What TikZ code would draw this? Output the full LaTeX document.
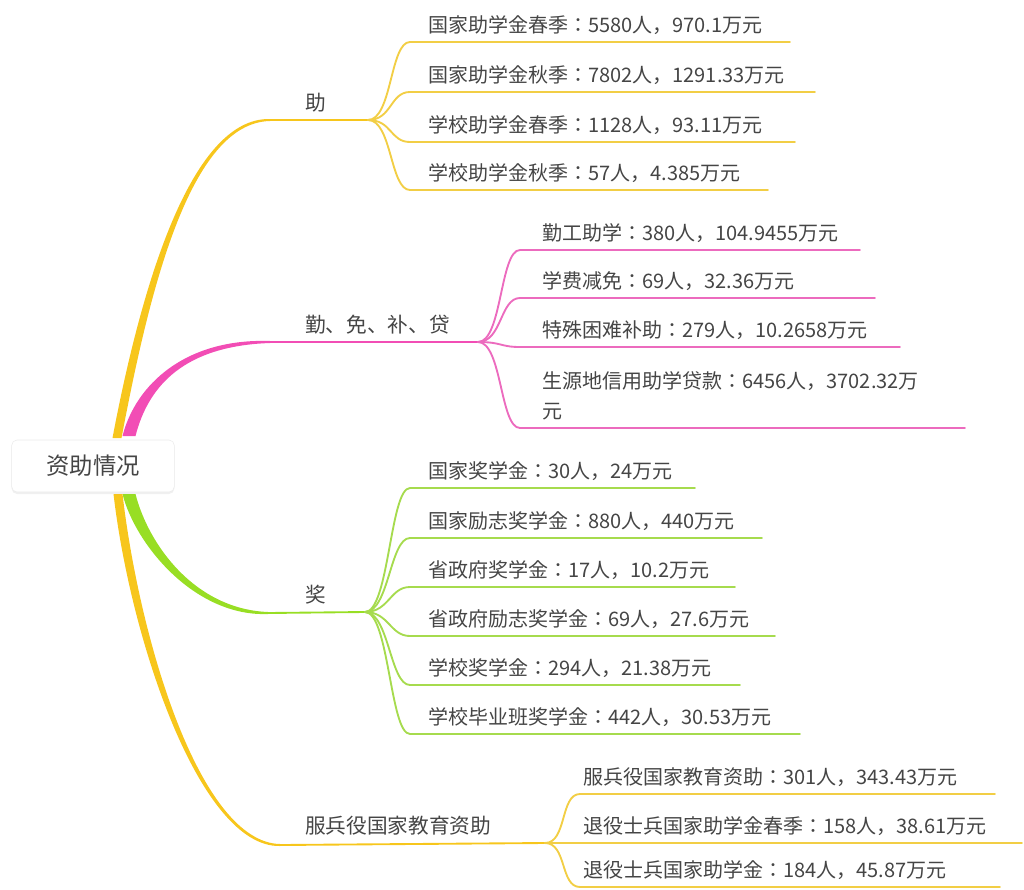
\documentclass[tikz,border=0pt]{standalone}
\usepackage{fontspec}
\setmainfont{Noto Sans CJK JP}
\usepackage{xcolor}
\usetikzlibrary{calc,backgrounds,shadows}
\definecolor{txt gray}{HTML}{454545}
\definecolor{zhu yellow}{HTML}{F7C61C}
\definecolor{zhu thin}{HTML}{F2CE45}
\definecolor{qin pink}{HTML}{F24DB5}
\definecolor{qin thin}{HTML}{EC6BBE}
\definecolor{jiang green}{HTML}{98DE24}
\definecolor{jiang thin}{HTML}{A6DB4E}
\tikzset{rootbox/.style={rectangle, rounded corners=4pt, fill=white, draw=black!8,
        minimum width=122pt, minimum height=39pt, text=txt gray,
        font=\fontsize{17.5}{21}\selectfont,
        drop shadow={opacity=0.12, shadow xshift=0pt, shadow yshift=-1.5pt}},
    topic/.style={anchor=base west, inner sep=0pt, text=txt gray,
        font=\fontsize{15.5}{19}\selectfont},
    leaf/.style={anchor=base west, inner sep=0pt, align=left, text=txt gray,
        font=\fontsize{15}{22.5}\selectfont},
    twig/.style={line width=1.4pt, line cap=round}}
% tapered main branch: colour, start, control 1, control 2, end, half width at start
\newcommand{\limb}[6]{%
    \fill[#1] ($(#2)+({-1*(#6)},0)$) .. controls ($(#3)+({-1*(#6)},0)$) and ($(#4)+(0,{-0.6*abs(#6)})$) .. ($(#5)+(0,-1)$)
        -- ($(#5)+(0,1)$) .. controls ($(#4)+(0,{0.6*abs(#6)})$) and ($(#3)+(#6,0)$) .. ($(#2)+(#6,0)$) -- cycle;}

\begin{document}
\begin{tikzpicture}[x=0.75pt,y=-0.75pt]
    \useasboundingbox (0,0) rectangle (1024,889);
    % Definition of the central topic
    \node[rootbox] (root) at (93,466) {资助情况};
    %
    \coordinate (root-zhu) at (117,438);
    \coordinate (root-qin) at (129,436);
    \coordinate (root-jiang) at (129,494);
    \coordinate (root-bing) at (118,494);
    %
    \node[topic] (zhu) at (305,110) {助};
    \node[topic] (qin) at (305,332) {勤、免、补、贷};
    \node[topic] (jiang) at (305,602) {奖};
    \node[topic] (bing) at (305,833) {服兵役国家教育资助};
    %
    \coordinate (zhu-s) at (270,120);   \coordinate (zhu-f) at (368,120);
    \coordinate (qin-s) at (270,342);   \coordinate (qin-f) at (478,342);
    \coordinate (jiang-s) at (268,613); \coordinate (jiang-f) at (365,612);
    \coordinate (bing-s) at (280,845);  \coordinate (bing-f) at (545,843);
    %
    \begin{pgfonlayer}{background}
    \limb{zhu yellow}{root-zhu}{145,290}{190,120}{zhu-s}{4.5}
    \limb{qin pink}{root-qin}{142,385}{185,342}{qin-s}{6.5}
    \limb{jiang green}{root-jiang}{142,545}{195,613}{jiang-s}{-6.5}
    \limb{zhu yellow}{root-bing}{135,640}{200,845}{bing-s}{-4.5}
    \draw[twig, zhu yellow] (zhu-s) -- (zhu-f);
    \draw[twig, qin pink] (qin-s) -- (qin-f);
    \draw[twig, jiang green] (jiang-s) -- (jiang-f);
    \draw[twig, zhu yellow] (bing-s) -- (bing-f);
    \end{pgfonlayer}
    % 助
    \foreach \y/\xe/\txt [count=\i] in {42/790/{国家助学金春季：5580人，970.1万元},
            92/815/{国家助学金秋季：7802人，1291.33万元},
            142/795/{学校助学金春季：1128人，93.11万元},
            190/768/{学校助学金秋季：57人，4.385万元}}{
        \coordinate (zhu-\i-a) at (410,\y);
        \coordinate (zhu-\i-b) at (\xe,\y);
        \node[leaf] (zhu-\i) at (428,\y-10) {\txt};
        \draw[twig, zhu thin] (zhu-f) .. controls +(24,0) and +(-20,0) .. (zhu-\i-a) -- (zhu-\i-b);
    }
    % 勤、免、补、贷
    \foreach \y/\xe/\txt [count=\i] in {250/860/{勤工助学：380人，104.9455万元},
            298/875/{学费减免：69人，32.36万元},
            347/900/{特殊困难补助：279人，10.2658万元},
            428/965/{生源地信用助学贷款：6456人，3702.32万\\元}}{
        \coordinate (qin-\i-a) at (520,\y);
        \coordinate (qin-\i-b) at (\xe,\y);
        \node[leaf] (qin-\i) at (542,\y-10) {\txt};
        \draw[twig, qin thin] (qin-f) .. controls +(24,0) and +(-20,0) .. (qin-\i-a) -- (qin-\i-b);
    }
    % 奖
    \foreach \y/\xe/\txt [count=\i] in {488/695/{国家奖学金：30人，24万元},
            538/762/{国家励志奖学金：880人，440万元},
            587/735/{省政府奖学金：17人，10.2万元},
            636/775/{省政府励志奖学金：69人，27.6万元},
            685/740/{学校奖学金：294人，21.38万元},
            734/800/{学校毕业班奖学金：442人，30.53万元}}{
        \coordinate (jiang-\i-a) at (410,\y);
        \coordinate (jiang-\i-b) at (\xe,\y);
        \node[leaf] (jiang-\i) at (428,\y-10) {\txt};
        \draw[twig, jiang thin] (jiang-f) .. controls +(24,0) and +(-20,0) .. (jiang-\i-a) -- (jiang-\i-b);
    }
    % 服兵役国家教育资助
    \foreach \y/\xe/\txt [count=\i] in {794/995/{服兵役国家教育资助：301人，343.43万元},
            843/1022/{退役士兵国家助学金春季：158人，38.61万元},
            887/1000/{退役士兵国家助学金：184人，45.87万元}}{
        \coordinate (bing-\i-a) at (580,\y);
        \coordinate (bing-\i-b) at (\xe,\y);
        \node[leaf] (bing-\i) at (583,\y-10) {\txt};
        \draw[twig, zhu thin] (bing-f) .. controls +(22,0) and +(-20,0) .. (bing-\i-a) -- (bing-\i-b);
    }
\end{tikzpicture}
\end{document}
